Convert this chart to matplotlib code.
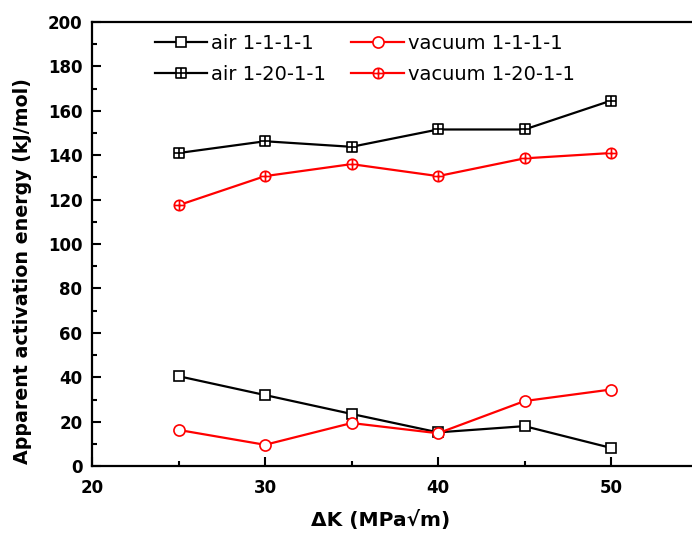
import matplotlib
matplotlib.use("Agg")
import matplotlib.pyplot as plt
from matplotlib.path import Path
from matplotlib.ticker import MultipleLocator

plt.rcParams["font.family"] = ["DejaVu Sans"]

delta_k = [25, 30, 35, 40, 45, 50]
air_1111 = [40.5, 32.0, 23.5, 15.2, 18.0, 8.2]
vac_1111 = [16.3, 9.6, 19.4, 14.8, 29.3, 34.5]
air_12011 = [141.0, 146.3, 143.8, 151.6, 151.6, 164.6]
vac_12011 = [117.5, 130.6, 136.0, 130.6, 138.6, 141.0]

labels = ["air 1-1-1-1", "vacuum 1-1-1-1", "air 1-20-1-1", "vacuum 1-20-1-1"]

# compound markers: square with plus, circle with plus
cross = Path([(0, -1), (0, 1), (-1, 0), (1, 0)],
             [Path.MOVETO, Path.LINETO, Path.MOVETO, Path.LINETO])
square = Path([(-1, -1), (1, -1), (1, 1), (-1, 1), (-1, -1)],
              [Path.MOVETO, Path.LINETO, Path.LINETO, Path.LINETO, Path.CLOSEPOLY])
square_plus = Path.make_compound_path(square, cross)
circle_plus = Path.make_compound_path(Path.unit_circle(), cross)

fig = plt.figure(figsize=(6.92, 5.37), dpi=100)
ax = fig.add_axes([0.133, 0.132, 0.875, 0.827])

common = dict(linewidth=1.6, markeredgewidth=1.2, markerfacecolor="white")
h1, = ax.plot(delta_k, air_1111, color="black", marker="s", markersize=6.5, label=labels[0], **common)
h2, = ax.plot(delta_k, vac_1111, color="red", marker="o", markersize=8.0, label=labels[1], **common)
h3, = ax.plot(delta_k, air_12011, color="black", marker=square_plus, markersize=6.8, label=labels[2], **common)
h4, = ax.plot(delta_k, vac_12011, color="red", marker=circle_plus, markersize=7.5, label=labels[3], **common)

ax.set_xlim(20, 55)
ax.set_ylim(0, 200)
ax.xaxis.set_major_locator(MultipleLocator(10))
ax.xaxis.set_minor_locator(MultipleLocator(5))
ax.yaxis.set_major_locator(MultipleLocator(20))
ax.yaxis.set_minor_locator(MultipleLocator(10))
ax.tick_params(which="both", direction="in", width=1.5, labelsize=12, top=False, right=False)
ax.tick_params(which="major", length=6.5)
ax.tick_params(which="minor", length=3.5)
ax.tick_params(axis="x", which="major", pad=9)
ax.tick_params(axis="y", which="major", pad=7)
for lab in ax.get_xticklabels() + ax.get_yticklabels():
    lab.set_fontweight("bold")
for s in ax.spines.values():
    s.set_linewidth(1.6)

ax.set_xlabel("ΔK (MPa√m)", fontsize=14.5, fontweight="bold")
ax.set_ylabel("Apparent activation energy (kJ/mol)", fontsize=13.7, fontweight="bold")
ax.xaxis.set_label_coords(0.476, -0.099)
ax.yaxis.set_label_coords(-0.099, 0.44)

ax.legend([h1, h3, h2, h4], [labels[0], labels[2], labels[1], labels[3]],
          ncol=2, loc="upper left", bbox_to_anchor=(147 / 692, 1 - 26 / 537),
          bbox_transform=fig.transFigure, borderaxespad=0, frameon=False,
          fontsize=14, handlelength=2.7, columnspacing=1.3, labelspacing=0.62,
          handletextpad=0.2)

fig.savefig("out.png", dpi=100)
